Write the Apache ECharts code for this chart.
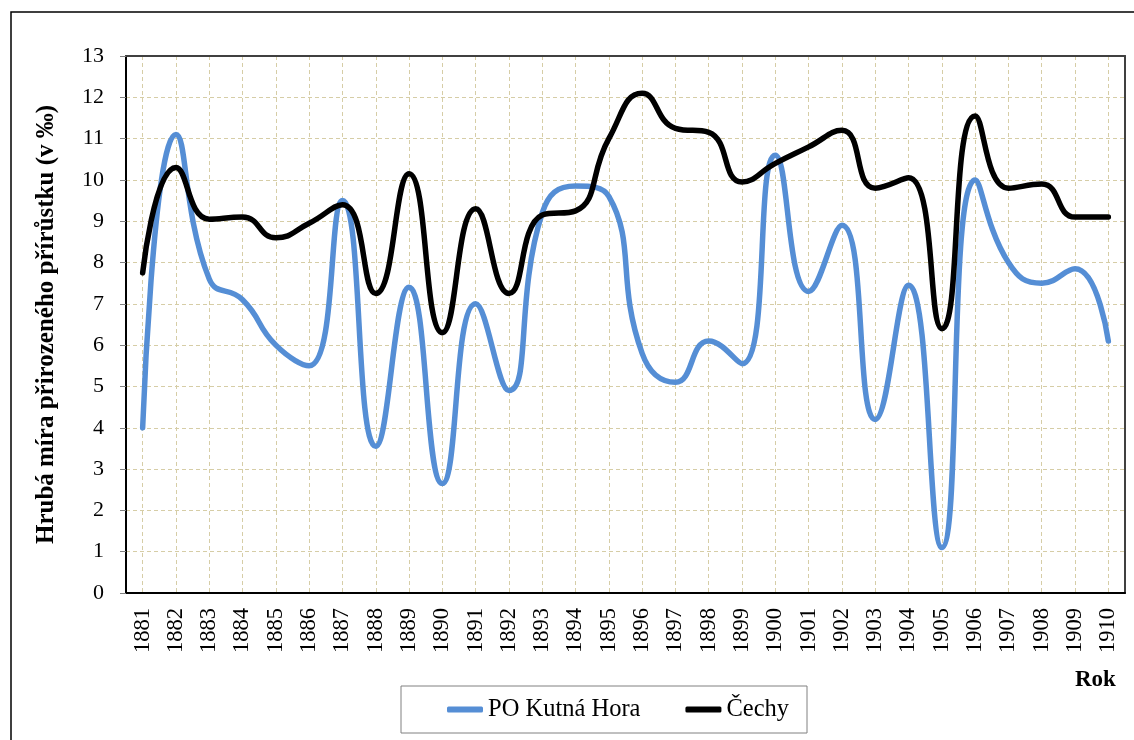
<!DOCTYPE html>
<html>
<head>
<meta charset="utf-8">
<script src="https://cdn.jsdelivr.net/npm/echarts@6/dist/echarts.min.js"></script>
<style>
  html, body { margin: 0; padding: 0; background: #fff; }
  #chart { width: 1134px; height: 740px; }
</style>
</head>
<body>
<div id="chart"></div>
<script>
// roky (kategorie osy x)
const years = [
  "1881", "1882", "1883", "1884", "1885", "1886", "1887", "1888", "1889", "1890",
  "1891", "1892", "1893", "1894", "1895", "1896", "1897", "1898", "1899", "1900",
  "1901", "1902", "1903", "1904", "1905", "1906", "1907", "1908", "1909", "1910",
];

// hrubá míra přirozeného přírůstku (v ‰)
const kutnaHora = [
  4.0, 11.1, 7.6, 7.1, 6.0, 5.5, 9.5, 3.55, 7.4, 2.65,
  7.0, 4.9, 9.2, 9.85, 9.6, 5.8, 5.1, 6.1, 5.55, 10.6,
  7.3, 8.9, 4.2, 7.45, 1.1, 10.0, 8.0, 7.5, 7.85, 6.1,
];
const cechy = [
  7.75, 10.3, 9.05, 9.1, 8.6, 8.95, 9.4, 7.25, 10.15, 6.3,
  9.3, 7.25, 9.15, 9.25, 11.0, 12.1, 11.25, 11.15, 9.95, 10.4,
  10.8, 11.2, 9.8, 10.05, 6.4, 11.55, 9.8, 9.9, 9.1, 9.1,
];

const FONT = "'Liberation Serif', 'Times New Roman', serif";
const GRID_COLOR = "#d6cda6";
const FRAME_COLOR = "#404040";

const chart = echarts.init(document.getElementById("chart"));

const option = {
  animation: false,
  textStyle: { fontFamily: FONT, color: "#000" },
  graphic: [
    {
      type: "rect",
      shape: { x: 11, y: 12, width: 1150, height: 760 },
      style: { fill: "none", stroke: "#000", lineWidth: 1.5 },
      silent: true,
    },
    {
      type: "text",
      left: 1075,
      top: 669,
      style: {
        text: "Rok",
        font: "bold 23px " + FONT,
        fill: "#000",
      },
    },
  ],
  legend: {
    left: 401,
    top: 686,
    padding: [11, 18, 11, 46],
    itemGap: 45,
    itemWidth: 36,
    itemHeight: 6,
    icon: "roundRect",
    borderColor: "#808080",
    borderWidth: 1,
    textStyle: { fontFamily: FONT, fontSize: 24.5, color: "#000" },
    data: ["PO Kutná Hora", "Čechy"],
  },
  grid: [
    {
      left: 126,
      top: 56,
      right: 9,
      bottom: 147,
    },
    // pomocná mřížka jen pro svislé čáry na středech kategorií
    {
      left: 126 + 1000 / 60,
      top: 56,
      right: 9 + 1000 / 60,
      bottom: 147,
    },
  ],
  xAxis: [
    {
      type: "category",
      gridIndex: 0,
      data: years,
      boundaryGap: true,
      axisLine: { onZero: false, lineStyle: { color: "#000", width: 2 } },
      axisTick: { show: false },
      axisLabel: {
        rotate: 90,
        margin: 15,
        fontSize: 22.5,
        fontFamily: FONT,
        color: "#000",
        interval: 0,
      },
      splitLine: { show: false },
    },
    {
      type: "category",
      gridIndex: 1,
      data: years,
      boundaryGap: false,
      axisLine: { show: false },
      axisTick: { show: false },
      axisLabel: { show: false },
      splitLine: {
        show: true,
        interval: 0,
        lineStyle: { color: GRID_COLOR, type: [4, 3], width: 1 },
      },
    },
    // horní okraj plochy grafu
    {
      type: "category",
      gridIndex: 0,
      position: "top",
      data: years,
      axisLine: {
        show: true,
        onZero: false,
        lineStyle: { color: FRAME_COLOR, width: 2 },
      },
      axisTick: { show: false },
      axisLabel: { show: false },
      splitLine: { show: false },
    },
  ],
  yAxis: [
    {
      type: "value",
      gridIndex: 0,
      min: 0,
      max: 13,
      interval: 1,
      name: "Hrubá míra přirozeného přírůstku (v ‰)",
      nameLocation: "middle",
      nameGap: 67,
      nameTextStyle: {
        fontFamily: FONT,
        fontSize: 25,
        fontWeight: "bold",
        color: "#000",
      },
      axisLine: {
        show: true,
        onZero: false,
        lineStyle: { color: "#000", width: 2 },
      },
      axisTick: {
        show: true,
        length: 6,
        lineStyle: { color: "#808080" },
      },
      axisLabel: {
        margin: 22,
        fontSize: 22,
        fontFamily: FONT,
        color: "#000",
      },
      splitLine: {
        show: true,
        lineStyle: { color: GRID_COLOR, type: [4, 3], width: 1 },
      },
    },
    {
      type: "value",
      gridIndex: 1,
      min: 0,
      max: 13,
      show: false,
    },
    // pravý okraj plochy grafu
    {
      type: "value",
      gridIndex: 0,
      position: "right",
      min: 0,
      max: 13,
      axisLine: {
        show: true,
        onZero: false,
        lineStyle: { color: FRAME_COLOR, width: 2 },
      },
      axisTick: { show: false },
      axisLabel: { show: false },
      splitLine: { show: false },
    },
  ],
  series: [
    {
      name: "PO Kutná Hora",
      type: "line",
      xAxisIndex: 0,
      yAxisIndex: 0,
      data: kutnaHora,
      smooth: 0.5,
      symbol: "none",
      lineStyle: { color: "#558ed5", width: 5.5, cap: "round", join: "round" },
      itemStyle: { color: "#558ed5" },
      z: 3,
    },
    {
      name: "Čechy",
      type: "line",
      xAxisIndex: 0,
      yAxisIndex: 0,
      data: cechy,
      smooth: 0.5,
      symbol: "none",
      lineStyle: { color: "#000", width: 5.5, cap: "round", join: "round" },
      itemStyle: { color: "#000" },
      z: 4,
    },
  ],
};

chart.setOption(option);
</script>
</body>
</html>
